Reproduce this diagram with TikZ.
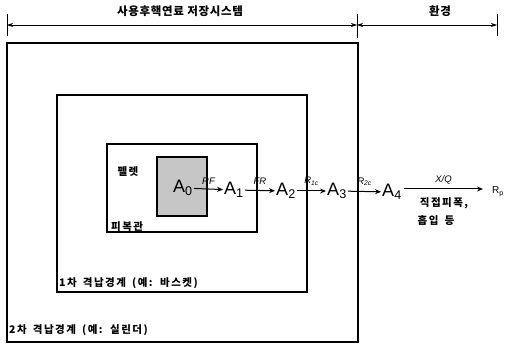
\documentclass[tikz,border=0pt]{standalone}
\usepackage{fontspec}
\setmainfont{Liberation Sans}
\newfontfamily\kr[LetterSpace=6]{Noto Sans CJK KR}
\newfontfamily\krw[LetterSpace=14,WordSpace=1.6]{Noto Sans CJK KR}
\usetikzlibrary{arrows.meta}
\begin{document}
\begin{tikzpicture}[x=1pt,y=-1pt,
  box/.style={draw=black,line width=1.2pt},
  krlabel/.style={font=\krw\bfseries\fontsize{10.5}{12}\selectfont,inner sep=1pt},
  anode/.style={font=\fontsize{18}{20}\selectfont,inner sep=1pt},
  flow/.style={-{Stealth[length=6pt,width=5pt]},line width=1pt},
  rlab/.style={font=\itshape\fontsize{9.5}{10}\selectfont,inner sep=1pt},
  dim/.style={{Stealth[length=6pt,width=4pt]}-{Stealth[length=6pt,width=4pt]},line width=0.7pt}]
\useasboundingbox (0,0) rectangle (507,345);
% dimension line
\coordinate (t0) at (7,25);
\coordinate (t1) at (357,25);
\coordinate (t2) at (497,25);
\draw[line width=0.9pt] (7,14) -- (7,36) (357,14) -- (357,38) (497,14) -- (497,36);
\draw[dim] (t0) -- (t1);
\draw[dim] (t1) -- (t2);
\node[inner sep=1pt,font=\kr\bfseries\fontsize{11.5}{12}\selectfont] (sys) at (180,11) {사용후핵연료 저장시스템};
\node[inner sep=1pt,font=\kr\bfseries\fontsize{11.5}{12}\selectfont] (env) at (440,11) {환경};
% boxes
\draw[box] (7,43) rectangle (358,342);
\draw[box] (57,95) rectangle (307,292);
\draw[box,line width=1.1pt] (107,144) rectangle (257,232);
\draw[box,fill=gray!45] (157,157) rectangle (207,216);
\node[krlabel,anchor=west] (l2) at (8,330) {2차 격납경계 (예: 실린더)};
\node[krlabel,anchor=west] (l1) at (58,283) {1차 격납경계 (예: 바스켓)};
\node[krlabel,anchor=west] (clad) at (110,227) {피복관};
\node[krlabel] (pel) at (128,172) {펠렛};
% A nodes
\node[anode] (A0) at (183,188) {A\textsubscript{0}};
\node[anode] (A1) at (234,190) {A\textsubscript{1}};
\node[anode] (A2) at (286,191) {A\textsubscript{2}};
\node[anode] (A3) at (337,191) {A\textsubscript{3}};
\node[anode] (A4) at (392,192) {A\textsubscript{4}};
\node[font=\fontsize{10}{11}\selectfont,inner sep=2pt] (Rp) at (498,192) {R\textsubscript{p}};
\draw[flow] (A0) -- (A1) node[rlab,midway,above=3pt] {RF};
\draw[flow] (A1) -- (A2) node[rlab,midway,above=4pt] {FR};
\draw[flow] (A2) -- (A3) node[rlab,midway,above=4pt] {R\textsubscript{1c}};
\draw[flow] (A3) -- (A4) node[rlab,midway,above=4pt] {R\textsubscript{2c}};
\coordinate (s4) at (404,189);
\coordinate (e4) at (483,189);
\draw[flow] (s4) -- (e4) node[rlab,midway,above=3pt] {X/Q};
\node[krlabel] (exp) at (444,203) {직접피폭,};
\node[krlabel] (inh) at (436,221) {흡입 등};
\end{tikzpicture}
\end{document}
